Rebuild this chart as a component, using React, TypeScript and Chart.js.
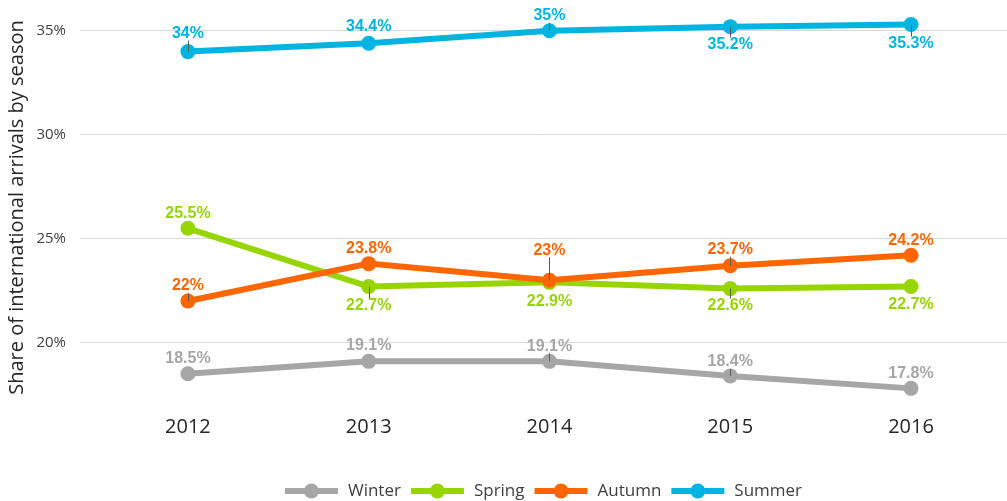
import React, { useEffect, useRef } from "react";
import { Chart, registerables } from "chart.js";

Chart.register(...registerables);

// ---- data ----
const years = [2012, 2013, 2014, 2015, 2016];
const seriesNames = ["Winter", "Spring", "Autumn", "Summer"];
const winter = [18.5, 19.1, 19.1, 18.4, 17.8];
const spring = [25.5, 22.7, 22.9, 22.6, 22.7];
const autumn = [22, 23.8, 23, 23.7, 24.2];
const summer = [34, 34.4, 35, 35.2, 35.3];
const yTicks = [20, 25, 30, 35];
const yTitle = "Share of international arrivals by season";

// ---- style ----
const colors = ["#A6A6A6", "#96D500", "#FF6600", "#00B4E1"];
// label vertical offsets (px, relative to point) and leader-line flags
const labelOffsets = [
  [-15, -16, -15, -14, -15],
  [-15, 19, 19, 17, 18],
  [-15, -15, -30, -16, -15],
  [-18, -17, -15, 18, 19],
];
const leaders = [
  [false, false, true, true, false],
  [false, true, false, true, false],
  [true, false, true, true, false],
  [true, false, true, true, true],
];
const drawOrder = [3, 2, 1, 0];

const labelPlugin = {
  id: "valueLabels",
  afterDatasetsDraw(chart: any) {
    const ctx = chart.ctx;
    ctx.save();
    chart.data.datasets.forEach((ds: any, di: number) => {
      const meta = chart.getDatasetMeta(di);
      meta.data.forEach((pt: any, i: number) => {
        const off = labelOffsets[di][i];
        const ly = pt.y + off;
        if (leaders[di][i]) {
          const edge = ly + (off < 0 ? 7 : -7);
          ctx.beginPath();
          ctx.strokeStyle = "#595959";
          ctx.lineWidth = 1;
          ctx.moveTo(Math.round(pt.x) + 0.5, edge);
          ctx.lineTo(Math.round(pt.x) + 0.5, pt.y);
          ctx.stroke();
        }
      });
    });
    chart.data.datasets.forEach((ds: any, di: number) => {
      const meta = chart.getDatasetMeta(di);
      meta.data.forEach((pt: any, i: number) => {
        const off = labelOffsets[di][i];
        ctx.font = "bold 16px 'Liberation Sans', Arial, sans-serif";
        ctx.fillStyle = colors[di];
        ctx.textAlign = "center";
        ctx.textBaseline = "middle";
        ctx.fillText(ds.data[i].y + "%", pt.x, pt.y + off);
      });
    });
    ctx.restore();
  },
};

const legendPlugin = {
  id: "lineLegend",
  afterDraw(chart: any) {
    const ctx = chart.ctx;
    const { left, right } = chart.chartArea;
    ctx.save();
    ctx.font = "17px 'Open Sans', sans-serif";
    const lineW = 53;
    const gap = 10;
    const widths = seriesNames.map((n) => lineW + gap + ctx.measureText(n).width);
    const total = widths.reduce((a, b) => a + b, 0) + gap * (seriesNames.length - 1);
    let x = (left + right) / 2 - total / 2;
    const y = 491;
    seriesNames.forEach((n, i) => {
      ctx.strokeStyle = colors[i];
      ctx.lineWidth = 6;
      ctx.beginPath();
      ctx.moveTo(x, y);
      ctx.lineTo(x + lineW, y);
      ctx.stroke();
      ctx.fillStyle = colors[i];
      ctx.beginPath();
      ctx.arc(x + lineW / 2, y, 7.5, 0, Math.PI * 2);
      ctx.fill();
      ctx.fillStyle = "#404040";
      ctx.textAlign = "left";
      ctx.textBaseline = "middle";
      ctx.fillText(n, x + lineW + gap, y);
      x += widths[i] + gap;
    });
    ctx.restore();
  },
};

export default function App() {
  const ref = useRef<HTMLCanvasElement>(null);
  useEffect(() => {
    if (!ref.current) return;
    const series = [winter, spring, autumn, summer];
    const chart = new Chart(ref.current, {
      type: "line",
      data: {
        datasets: series.map((vals, si) => ({
          label: seriesNames[si],
          data: years.map((x, i) => ({ x, y: vals[i] })),
          borderColor: colors[si],
          backgroundColor: colors[si],
          pointBackgroundColor: colors[si],
          pointBorderWidth: 0,
          pointRadius: 7.5,
          borderWidth: 6,
          tension: 0,
          clip: false,
          order: drawOrder[si],
        })),
      },
      options: {
        animation: false,
        responsive: false,
        events: [],
        layout: { autoPadding: false, padding: { left: 5, right: 0, top: 10, bottom: 60 } },
        plugins: { legend: { display: false }, tooltip: { enabled: false } },
        scales: {
          x: {
            type: "linear",
            min: 2011.403,
            max: 2016.531,
            afterBuildTicks: (s: any) => {
              s.ticks = years.map((v) => ({ value: v }));
            },
            afterFit: (s: any) => {
              s.height = 36;
              s.paddingLeft = 0;
              s.paddingRight = 0;
              s.paddingTop = 0;
              s.paddingBottom = 0;
            },
            grid: { display: false, drawTicks: false },
            border: { display: false },
            ticks: {
              padding: 10,
              color: "#262626",
              font: { family: "'Open Sans', sans-serif", size: 20 },
              callback: (v: any) => String(v),
              maxRotation: 0,
              autoSkip: false,
            },
          },
          y: {
            min: 17,
            max: 36,
            afterBuildTicks: (s: any) => {
              s.ticks = yTicks.map((v) => ({ value: v }));
            },
            afterFit: (s: any) => {
              s.width = 75;
              s.paddingLeft = 0;
              s.paddingRight = 0;
              s.paddingTop = 0;
              s.paddingBottom = 0;
            },
            grid: { color: "#D9D9D9", drawTicks: false, lineWidth: 1 },
            border: { display: false },
            ticks: {
              padding: 14,
              color: "#404040",
              font: { family: "'Open Sans', sans-serif", size: 15 },
              callback: (v: any) => v + "%",
            },
            title: {
              display: true,
              text: yTitle,
              color: "#262626",
              padding: 0,
              font: { family: "'Open Sans', sans-serif", size: 20 },
            },
          },
        },
      },
      plugins: [labelPlugin, legendPlugin],
    } as any);
    return () => chart.destroy();
  }, []);
  return (
    <div style={{ position: "fixed", left: 0, top: 0, width: 1007, height: 501, background: "#fff" }}>
      <canvas ref={ref} width={1007} height={501} />
    </div>
  );
}
